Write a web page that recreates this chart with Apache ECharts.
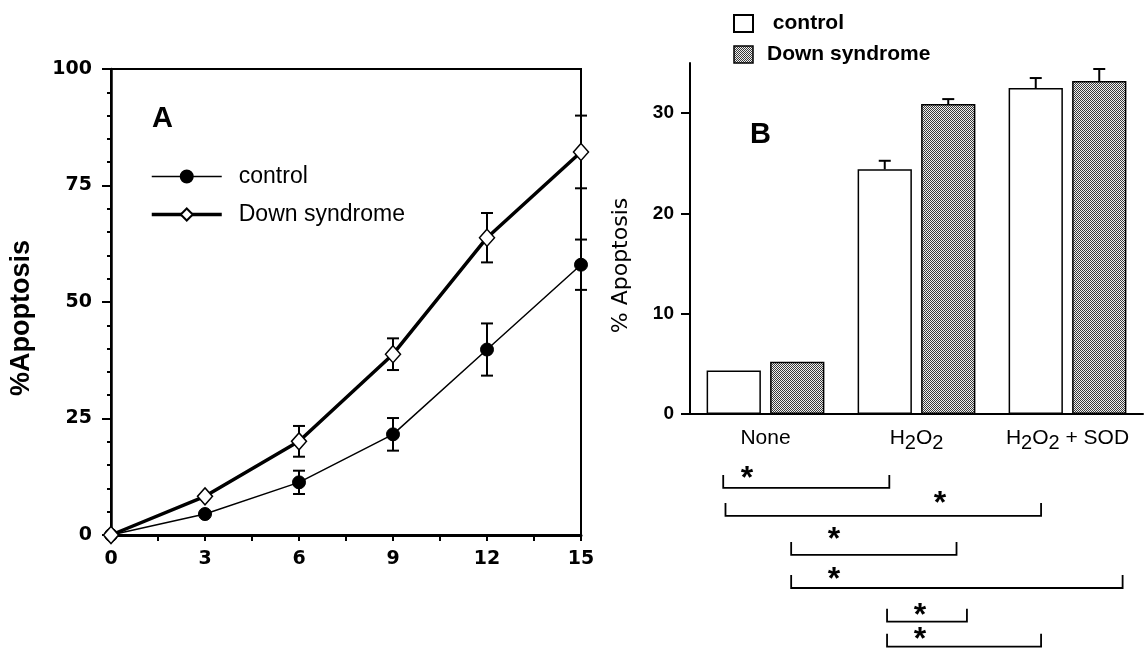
<!DOCTYPE html>
<html>
<head>
<meta charset="utf-8">
<script src="https://cdn.jsdelivr.net/npm/echarts@6/dist/echarts.min.js"></script>
<style>html,body{margin:0;background:#fff}#main{width:1146px;height:652px}</style>
</head>
<body>
<div id="main"></div>
<script>
const myChart = echarts.init(document.getElementById('main'));

// panel A: time course (hours)
const hours = [0, 3, 6, 9, 12, 15];
const controlA = [0, 4.5, 11.3, 21.6, 39.8, 58.0];
const controlErrA = [0, 0, 2.5, 3.5, 5.6, 5.4];
const downA = [0, 8.3, 20.1, 38.8, 63.8, 82.2];
const downErrA = [0, 0, 3.3, 3.4, 5.3, 7.8];

// panel B: treatments
const treatments = ['None', 'H₂O₂', 'H₂O₂ + SOD'];
const controlB = [4.35, 24.4, 32.5];
const controlErrB = [0, 0.85, 1.0];
const downB = [5.2, 30.9, 33.2];
const downErrB = [0, 0.5, 1.2];

// significance brackets under panel B (x in category units, rows 0..10 going down)
const bracketFrom = [0.22, 0.235, 0.67, 0.67, 1.305, 1.305];
const bracketTo = [1.32, 2.325, 1.765, 2.865, 1.834, 2.325];
const bracketRow = [2.26, 3.58, 5.42, 6.98, 8.57, 9.75];
const starX = [0.377, 1.656, 0.954, 0.954, 1.523, 1.523];
const starRow = [1.5, 2.69, 4.39, 6.27, 7.97, 9.1];

// dotted fill for the Down syndrome bars
const dots = document.createElement('canvas');
dots.width = 4; dots.height = 4;
const ctx = dots.getContext('2d');
ctx.fillStyle = '#f0f0f0';
ctx.fillRect(0, 0, 4, 4);
ctx.fillStyle = '#3a3a3a';
for (let i = 0; i < 4; i++) {
  for (let j = 0; j < 4; j++) {
    if ((i + j) % 2 === 0) ctx.fillRect(i, j, 1, 1);
  }
}
const dotFill = { image: dots, repeat: 'repeat' };

const BLACK = '#000';
const numFontA = { color: BLACK, fontFamily: 'DejaVu Sans', fontWeight: 'bold', fontSize: 19 };
const numFontB = { color: BLACK, fontFamily: 'Liberation Sans', fontWeight: 'bold', fontSize: 19 };

const errDataA = (mean, err) => hours
  .map((h, i) => [h, mean[i] - err[i], mean[i] + err[i]])
  .filter((d, i) => err[i] > 0);

const renderErrA = (params, api) => {
  const hi = api.coord([api.value(0), api.value(2)]);
  const lo = api.coord([api.value(0), api.value(1)]);
  const w = 6;
  const st = { stroke: BLACK, lineWidth: 2 };
  return {
    type: 'group',
    children: [
      { type: 'line', shape: { x1: hi[0], y1: hi[1], x2: lo[0], y2: lo[1] }, style: st },
      { type: 'line', shape: { x1: hi[0] - w, y1: hi[1], x2: hi[0] + w, y2: hi[1] }, style: st },
      { type: 'line', shape: { x1: lo[0] - w, y1: lo[1], x2: lo[0] + w, y2: lo[1] }, style: st }
    ]
  };
};

const BAR_GAP = '17%';
const BAR_CAT_GAP = '22%';

const errDataB = (mean, err) => treatments
  .map((t, i) => [i, mean[i], mean[i] + err[i]])
  .filter((d, i) => err[i] > 0);

const renderErrB = k => (params, api) => {
  const layout = api.barLayout({ count: 2, barGap: BAR_GAP, barCategoryGap: BAR_CAT_GAP });
  const base = api.coord([api.value(0), api.value(1)]);
  const top = api.coord([api.value(0), api.value(2)]);
  const x = base[0] + layout[k].offsetCenter;
  const w = 6;
  const st = { stroke: BLACK, lineWidth: 2 };
  return {
    type: 'group',
    children: [
      { type: 'line', shape: { x1: x, y1: base[1], x2: x, y2: top[1] }, style: st },
      { type: 'line', shape: { x1: x - w, y1: top[1], x2: x + w, y2: top[1] }, style: st }
    ]
  };
};

const bracketData = bracketFrom.map((f, i) => [f, bracketTo[i], bracketRow[i], starX[i], starRow[i]]);

const renderBracket = (params, api) => {
  const a = api.coord([api.value(0), api.value(2)]);
  const b = api.coord([api.value(1), api.value(2)]);
  const s = api.coord([api.value(3), api.value(4)]);
  const h = 13;
  return {
    type: 'group',
    children: [
      {
        type: 'polyline',
        shape: { points: [[a[0], a[1] - h], [a[0], a[1]], [b[0], b[1]], [b[0], b[1] - h]] },
        style: { stroke: BLACK, lineWidth: 1.8, fill: null }
      },
      {
        type: 'text', x: s[0], y: s[1] + 7,
        style: { text: '*', font: 'bold 32px "Liberation Sans"', align: 'center', verticalAlign: 'middle', fill: BLACK }
      }
    ]
  };
};

// H₂O₂ labels: draw the subscript 2 as a full-size, lowered digit
const chemLabel = v => v.split('').map(ch => ch === '₂' ? '{s|2}' : '{n|' + ch + '}').join('');

const option = {
  backgroundColor: '#fff',
  animation: false,
  title: [
    { text: 'A', left: 147, top: 99, textStyle: { fontFamily: 'Liberation Sans', fontWeight: 'bold', fontSize: 29, color: BLACK } },
    { text: 'B', left: 745, top: 115, textStyle: { fontFamily: 'Liberation Sans', fontWeight: 'bold', fontSize: 29, color: BLACK } }
  ],
  legend: [
    {
      data: [
        { name: 'control', lineStyle: { width: 1.5, color: BLACK } },
        { name: 'Down syndrome', lineStyle: { width: 3.5, color: BLACK } }
      ],
      orient: 'vertical', left: 145, top: 160,
      itemWidth: 70, itemHeight: 15, itemGap: 15,
      selectedMode: false,
      textStyle: { fontFamily: 'Liberation Sans', fontSize: 23, color: BLACK, padding: [0, 0, 0, 12] }
    },
    {
      data: [
        { name: ' control', icon: 'rect' },
        { name: 'Down syndrome ', icon: 'rect', itemStyle: { color: dotFill, borderColor: BLACK, borderWidth: 1.5 } }
      ],
      orient: 'vertical', left: 728, top: 8,
      itemWidth: 19, itemHeight: 17, itemGap: 10,
      selectedMode: false,
      textStyle: { fontFamily: 'Liberation Sans', fontWeight: 'bold', fontSize: 21, color: BLACK, padding: [0, 0, 0, 9] }
    }
  ],
  grid: [
    { left: 111, right: 565, top: 69, bottom: 117, show: true, borderColor: BLACK, borderWidth: 2 },
    { left: 690, right: 3, top: 63, bottom: 238 },
    { left: 690, right: 3, top: 440, bottom: 0 }
  ],
  xAxis: [
    {
      gridIndex: 0, type: 'value', min: 0, max: 15, interval: 3,
      axisLine: { lineStyle: { color: BLACK, width: 3 } },
      axisTick: { length: 6, lineStyle: { color: BLACK, width: 2 } },
      minorTick: { show: true, splitNumber: 2, length: 6, lineStyle: { color: BLACK, width: 2 } },
      axisLabel: Object.assign({ margin: 15 }, numFontA),
      splitLine: { show: false }
    },
    {
      gridIndex: 1, type: 'category', data: treatments,
      axisLine: { lineStyle: { color: BLACK, width: 2 } },
      axisTick: { alignWithLabel: true, length: 9, lineStyle: { color: BLACK, width: 2 } },
      axisLabel: {
        margin: 14, interval: 0, formatter: chemLabel,
        rich: {
          n: { color: BLACK, fontFamily: 'Liberation Sans', fontSize: 21, padding: [0, 0, 5, 0] },
          s: { color: BLACK, fontFamily: 'Liberation Sans', fontSize: 20, padding: [5, 0, 0, 0] }
        }
      }
    },
    { gridIndex: 2, type: 'value', min: 0, max: 3, show: false }
  ],
  yAxis: [
    {
      gridIndex: 0, type: 'value', min: 0, max: 100, interval: 25,
      name: '%Apoptosis', nameLocation: 'middle', nameGap: 76, nameRotate: 90,
      nameTextStyle: { fontFamily: 'Liberation Sans', fontWeight: 'bold', fontSize: 27, color: BLACK, padding: [0, 32, 0, 0] },
      axisLine: { lineStyle: { color: BLACK, width: 2.5 } },
      axisTick: { length: 9, lineStyle: { color: BLACK, width: 2 } },
      minorTick: { show: true, splitNumber: 5, length: 4, lineStyle: { color: BLACK, width: 2 } },
      axisLabel: Object.assign({ margin: 19 }, numFontA),
      splitLine: { show: false }
    },
    {
      gridIndex: 1, type: 'value', min: 0, max: 35, interval: 10,
      name: '% Apoptosis', nameLocation: 'middle', nameGap: 58, nameRotate: 90,
      nameTextStyle: { fontFamily: 'DejaVu Sans', fontSize: 22, color: BLACK, padding: [0, 54, 0, 0] },
      axisLine: { show: true, lineStyle: { color: BLACK, width: 2 } },
      axisTick: { show: true, length: 9, customValues: [0, 10, 20, 30], lineStyle: { color: BLACK, width: 2 } },
      axisLabel: Object.assign({ margin: 16, customValues: [0, 10, 20, 30] }, numFontB),
      splitLine: { show: false }
    },
    { gridIndex: 2, type: 'value', min: 0, max: 10, inverse: true, show: false }
  ],
  series: [
    {
      type: 'custom', xAxisIndex: 0, yAxisIndex: 0, z: 1,
      data: errDataA(controlA, controlErrA), renderItem: renderErrA
    },
    {
      type: 'custom', xAxisIndex: 0, yAxisIndex: 0, z: 1,
      data: errDataA(downA, downErrA), renderItem: renderErrA
    },
    {
      name: 'control', type: 'line', xAxisIndex: 0, yAxisIndex: 0, z: 3,
      data: hours.map((h, i) => [h, controlA[i]]),
      symbol: 'circle', symbolSize: 13,
      itemStyle: { color: BLACK, borderColor: BLACK, borderWidth: 1 },
      lineStyle: { color: BLACK, width: 1.5 }
    },
    {
      name: 'Down syndrome', type: 'line', xAxisIndex: 0, yAxisIndex: 0, z: 4,
      data: hours.map((h, i) => [h, downA[i]]),
      symbol: 'diamond', symbolSize: [15, 17],
      itemStyle: { color: '#fff', borderColor: BLACK, borderWidth: 1.5 },
      lineStyle: { color: BLACK, width: 3.5 }
    },
    {
      name: ' control', type: 'bar', xAxisIndex: 1, yAxisIndex: 1,
      data: controlB, barGap: BAR_GAP, barCategoryGap: BAR_CAT_GAP,
      itemStyle: { color: '#fff', borderColor: BLACK, borderWidth: 1.5 }
    },
    {
      name: 'Down syndrome ', type: 'bar', xAxisIndex: 1, yAxisIndex: 1,
      data: downB, barGap: BAR_GAP, barCategoryGap: BAR_CAT_GAP,
      itemStyle: { color: dotFill, borderColor: BLACK, borderWidth: 1.5 }
    },
    {
      type: 'custom', xAxisIndex: 1, yAxisIndex: 1, z: 3,
      data: errDataB(controlB, controlErrB), renderItem: renderErrB(0)
    },
    {
      type: 'custom', xAxisIndex: 1, yAxisIndex: 1, z: 3,
      data: errDataB(downB, downErrB), renderItem: renderErrB(1)
    },
    {
      type: 'custom', xAxisIndex: 2, yAxisIndex: 2,
      data: bracketData, renderItem: renderBracket
    }
  ]
};

myChart.setOption(option);
</script>
</body>
</html>
